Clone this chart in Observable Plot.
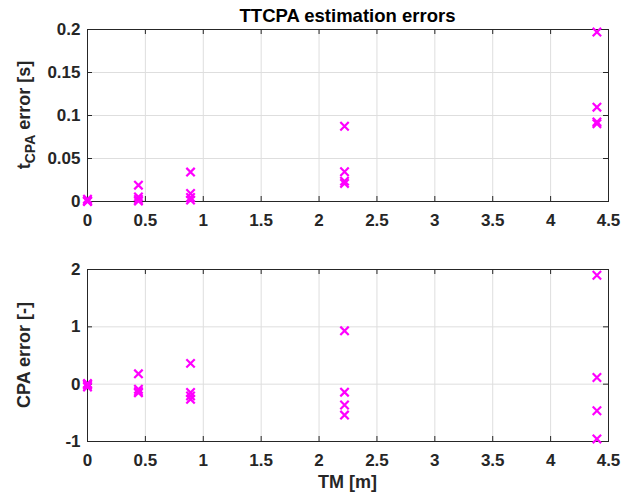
<!DOCTYPE html>
<html><head><meta charset="utf-8">
<script src="https://cdn.jsdelivr.net/npm/d3@7"></script>
<script src="https://cdn.jsdelivr.net/npm/@observablehq/plot@0.6"></script>
<style>
body{margin:0;background:#fff;}
#chart svg{display:block;}
</style></head><body><div id="chart"></div>
<script>
// TM values (x) and the four runs per TM value
const tmGroups = [0, 0.44, 0.89, 2.22, 4.4];
const ttcpaErr = [
  [0.0027, 0.001, 0.0, 0.0003],
  [0.019, 0.0054, 0.0023, 0.0005],
  [0.0342, 0.0093, 0.0047, 0.0016],
  [0.0875, 0.0346, 0.0237, 0.021],
  [0.197, 0.1097, 0.0925, 0.0905]
];
const cpaErr = [
  [0.01, 0.0, -0.02, -0.05],
  [0.18, -0.088, -0.129, -0.152],
  [0.363, -0.146, -0.205, -0.264],
  [0.93, -0.14, -0.363, -0.539],
  [1.90, 0.117, -0.463, -0.955]
];
const xTicks = [0, 0.5, 1, 1.5, 2, 2.5, 3, 3.5, 4, 4.5];
const ttcpaTicks = [0, 0.05, 0.1, 0.15, 0.2];
const cpaTicks = [-1, 0, 1, 2];
const titleText = "TTCPA estimation errors";
const xLabel = "TM [m]";
const cpaLabel = "CPA error [-]";

const rows = (vals) => tmGroups.flatMap((tm, i) => vals[i].map(v => ({tm, v})));
const ttRows = rows(ttcpaErr);
const cpaRows = rows(cpaErr);

const FONT = "'Liberation Sans', Arial, Helvetica, sans-serif";
const INK = "#262626";
const GRID = "#dedede";
const MAG = "#ff00ff";

function panel({data, yDomain, yTicks, height, marginTop, marginBottom}) {
  return Plot.plot({
    width: 644, height, marginLeft: 87, marginRight: 36, marginTop, marginBottom,
    style: {fontFamily: FONT, background: "#fff", color: INK},
    x: {domain: [0, 4.5]},
    y: {domain: yDomain},
    marks: [
      Plot.gridX(xTicks, {stroke: GRID, strokeOpacity: 1}),
      Plot.gridY(yTicks, {stroke: GRID, strokeOpacity: 1}),
      Plot.frame({stroke: INK, strokeWidth: 1}),
      Plot.axisX(xTicks, {anchor: "bottom", tickSize: 0, tickPadding: 12, label: null, fontSize: 17, fontWeight: "bold", fill: INK, tickFormat: d => String(d)}),
      Plot.axisY(yTicks, {anchor: "left", tickSize: 0, tickPadding: 7, label: null, fontSize: 17, fontWeight: "bold", fill: INK, tickFormat: d => String(d)}),
      Plot.tickX(xTicks, {x: d => d, stroke: INK, insetTop: height - marginTop - marginBottom - 5}),
      Plot.tickX(xTicks, {x: d => d, stroke: INK, insetBottom: height - marginTop - marginBottom - 5}),
      Plot.tickY(yTicks, {y: d => d, stroke: INK, insetRight: 644 - 87 - 36 - 5}),
      Plot.tickY(yTicks, {y: d => d, stroke: INK, insetLeft: 644 - 87 - 36 - 5}),
      Plot.dot(data, {x: "tm", y: "v", symbol: "times", r: 3.9, stroke: MAG, strokeWidth: 2.2})
    ]
  });
}

const svg1 = panel({data: ttRows, yDomain: [0, 0.2], yTicks: ttcpaTicks, height: 231, marginTop: 29, marginBottom: 30});
const svg2 = panel({data: cpaRows, yDomain: [-1, 2], yTicks: cpaTicks, height: 266, marginTop: 38, marginBottom: 56});

// title
d3.select(svg1).append("text")
  .attr("x", 347.5).attr("y", 22)
  .attr("text-anchor", "middle")
  .attr("font-family", FONT).attr("font-weight", "bold").attr("font-size", 18.5)
  .attr("fill", "#000")
  .text(titleText);

// y label top with subscript
const t1 = d3.select(svg1).append("text")
  .attr("transform", "translate(30,115) rotate(-90)")
  .attr("text-anchor", "middle")
  .attr("font-family", FONT).attr("font-weight", "bold").attr("font-size", 18)
  .attr("fill", INK);
t1.append("tspan").text("t");
t1.append("tspan").attr("font-size", 14).attr("dy", 5).text("CPA");
t1.append("tspan").attr("dy", -5).text(" error [s]");

// y label bottom
d3.select(svg2).append("text")
  .attr("transform", "translate(30,124) rotate(-90)")
  .attr("text-anchor", "middle")
  .attr("font-family", FONT).attr("font-weight", "bold").attr("font-size", 18)
  .attr("fill", INK)
  .text(cpaLabel);

// x label
d3.select(svg2).append("text")
  .attr("x", 347.5).attr("y", 257)
  .attr("text-anchor", "middle")
  .attr("font-family", FONT).attr("font-weight", "bold").attr("font-size", 18)
  .attr("fill", INK)
  .text(xLabel);

document.getElementById("chart").append(svg1, svg2);
</script></body></html>
